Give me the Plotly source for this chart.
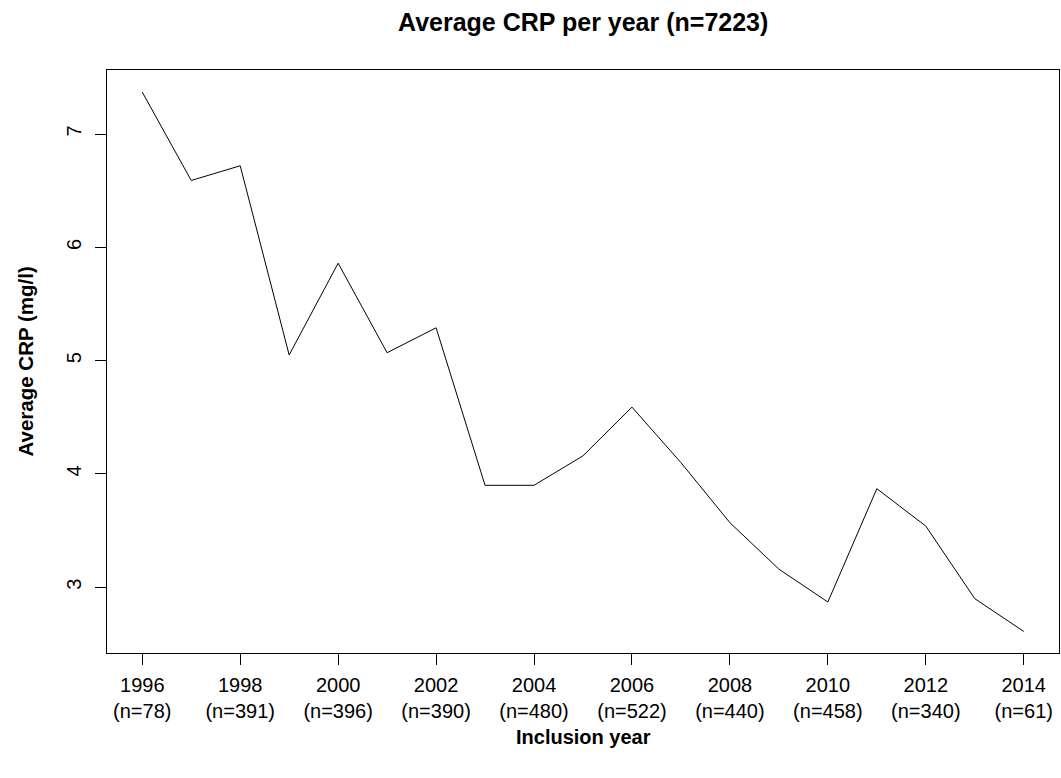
import plotly.graph_objects as go

# Average CRP (mg/l) by inclusion year
years = list(range(1996, 2015))
avg_crp = [7.37, 6.59, 6.72, 5.05, 5.86, 5.07, 5.29, 3.90, 3.90, 4.16,
           4.59, 4.10, 3.57, 3.16, 2.87, 3.87, 3.54, 2.90, 2.61]

# Labelled ticks every second year, with number of patients
tick_years = [1996, 1998, 2000, 2002, 2004, 2006, 2008, 2010, 2012, 2014]
tick_counts = [78, 391, 396, 390, 480, 522, 440, 458, 340, 61]
tick_text = [f"{y}<br>(n={n})" for y, n in zip(tick_years, tick_counts)]

y_ticks = [3, 4, 5, 6, 7]

FONT = "Liberation Sans, Arial, sans-serif"

W, H = 1061, 778
L, R, T, B = 107, 2, 70, 125
pw, ph = W - L - R, H - T - B

fig = go.Figure()
fig.add_trace(go.Scatter(
    x=years, y=avg_crp, mode="lines",
    line=dict(color="black", width=1),
    hoverinfo="x+y", showlegend=False,
))

axis_common = dict(
    showline=True, linecolor="black", linewidth=1, mirror=True,
    ticks="outside", ticklen=11, tickcolor="black", tickwidth=1,
    showgrid=False, zeroline=False,
    tickfont=dict(family=FONT, size=20, color="black"),
)

fig.update_layout(
    width=W, height=H,
    margin=dict(l=L, r=R, t=T, b=B),
    paper_bgcolor="white", plot_bgcolor="white",
    xaxis=dict(range=[1995.28, 2014.72], tickvals=tick_years, ticktext=tick_text,
               ticklabelstandoff=3, **axis_common),
    yaxis=dict(range=[2.42, 7.565], tickvals=y_ticks, tickangle=-90,
               ticklabelstandoff=6, **axis_common),
    annotations=[
        dict(text="<b>Average CRP per year (n=7223)</b>", xref="paper", yref="paper",
             x=0.5, y=(H - B - 22) / ph, xanchor="center", yanchor="middle",
             showarrow=False, font=dict(family=FONT, size=25, color="black")),
        dict(text="<b>Inclusion year</b>", xref="paper", yref="paper",
             x=0.5, y=-(737 - (H - B)) / ph, xanchor="center", yanchor="middle",
             showarrow=False, font=dict(family=FONT, size=20, color="black")),
        dict(text="<b>Average CRP (mg/l)</b>", xref="paper", yref="paper",
             x=(25 - L) / pw, y=0.5, xanchor="center", yanchor="middle",
             textangle=-90, showarrow=False,
             font=dict(family=FONT, size=20.5, color="black")),
    ],
)

fig.write_html("out.html")
